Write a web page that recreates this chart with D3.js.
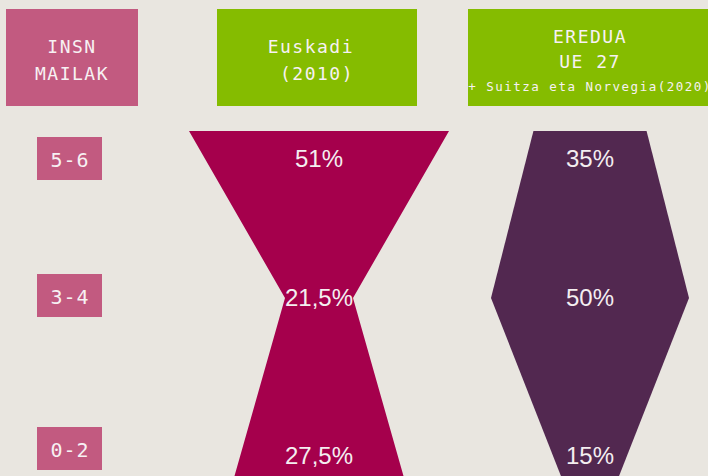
<!DOCTYPE html>
<html lang="eu">
<head>
<meta charset="UTF-8">
<title>INSN mailak</title>
<script src="https://d3js.org/d3.v7.min.js"></script>
<style>
  body { margin: 0; background: #e9e6e0; }
  svg { display: block; }
  .mono { font-family: "DejaVu Sans Mono", monospace; fill: #f7f1f3; }
  .pct { font-family: "Liberation Sans", Arial, sans-serif; fill: #f4eef0; font-size: 24px; }
</style>
</head>
<body>
<div id="chart"></div>
<script>
// data
const levels = ["5-6", "3-4", "0-2"];
const euskadi = [51, 21.5, 27.5];
const eredua = [35, 50, 15];
const headerLines = [
  ["INSN", "MAILAK"],
  ["Euskadi ", " (2010) "],
  ["EREDUA", "UE 27", "+ Suitza eta Norvegia(2020)"]
];

const width = 708, height = 476;
const svg = d3.select("#chart").append("svg")
  .attr("width", width)
  .attr("height", height);

svg.append("rect").attr("width", width).attr("height", height).attr("fill", "#e9e6e0");

const pink = "#c25a80", green = "#85bc00";
const fmt = d3.formatLocale({decimal: ",", thousands: ".", grouping: [3], currency: ["", "€"]}).format("~f");

// column positions
const colX = d3.scaleOrdinal(["label", "euskadi", "eredua"], [72, 317, 590]);
const colW = d3.scaleOrdinal(["label", "euskadi", "eredua"], [132, 200, 244]);
// row centres (left boxes), label baselines and shape vertex heights
const rowY = d3.scaleOrdinal(levels, [158.5, 295.5, 448.5]);
const pctY = d3.scaleOrdinal(levels, [167, 306, 464]);
const vertexY = d3.scaleOrdinal(levels, [131, 298, 550]);

// header boxes
const heads = svg.selectAll("g.head")
  .data(["label", "euskadi", "eredua"])
  .join("g").attr("class", "head");

heads.append("rect")
  .attr("x", d => colX(d) - colW(d) / 2)
  .attr("y", 9)
  .attr("width", d => colW(d))
  .attr("height", 97)
  .attr("fill", (d, i) => i === 0 ? pink : green);

const lineBase = [[53, 80], [53, 80], [43, 68, 91]];
heads.each(function(d, i) {
  d3.select(this).selectAll("text")
    .data(headerLines[i])
    .join("text")
      .attr("class", "mono")
      .attr("x", colX(d))
      .attr("y", (t, j) => lineBase[i][j])
      .attr("text-anchor", "middle")
      .style("white-space", "pre")
      .attr("font-size", (t, j) => (i === 2 && j === 2) ? "12.5px" : "18px")
      .attr("letter-spacing", "1.5px")
      .text(t => t);
});

// level boxes on the left
const lv = svg.selectAll("g.level")
  .data(levels)
  .join("g").attr("class", "level");

lv.append("rect")
  .attr("x", 37)
  .attr("y", d => rowY(d) - 21.5)
  .attr("width", 65)
  .attr("height", 43)
  .attr("fill", pink);

lv.append("text")
  .attr("class", "mono")
  .attr("x", 70)
  .attr("y", d => rowY(d) + 8.5)
  .attr("text-anchor", "middle")
  .attr("font-size", "20px")
  .attr("letter-spacing", "1px")
  .text(d => d);

// shape width scales (percent -> width in px)
const wEusk = d3.scaleLinear().domain([21.5, 27.5, 51]).range([68, 211, 260]);
const wEred = d3.scaleLinear().domain([15, 50]).range([0, 198]);

function shape(values, wScale, cx, color) {
  const left = levels.map((l, i) => [cx - wScale(values[i]) / 2, vertexY(l)]);
  const right = levels.map((l, i) => [cx + wScale(values[i]) / 2, vertexY(l)]).reverse();
  svg.append("path")
    .attr("d", d3.line()(left.concat(right)) + "Z")
    .attr("fill", color);

  svg.selectAll(null)
    .data(levels)
    .join("text")
      .attr("class", "pct")
      .attr("x", cx)
      .attr("y", l => pctY(l))
      .attr("text-anchor", "middle")
      .text((l, i) => fmt(values[i]) + "%");
}

shape(euskadi, wEusk, 319, "#a5004c");
shape(eredua, wEred, 590, "#522850");
</script>
</body>
</html>
